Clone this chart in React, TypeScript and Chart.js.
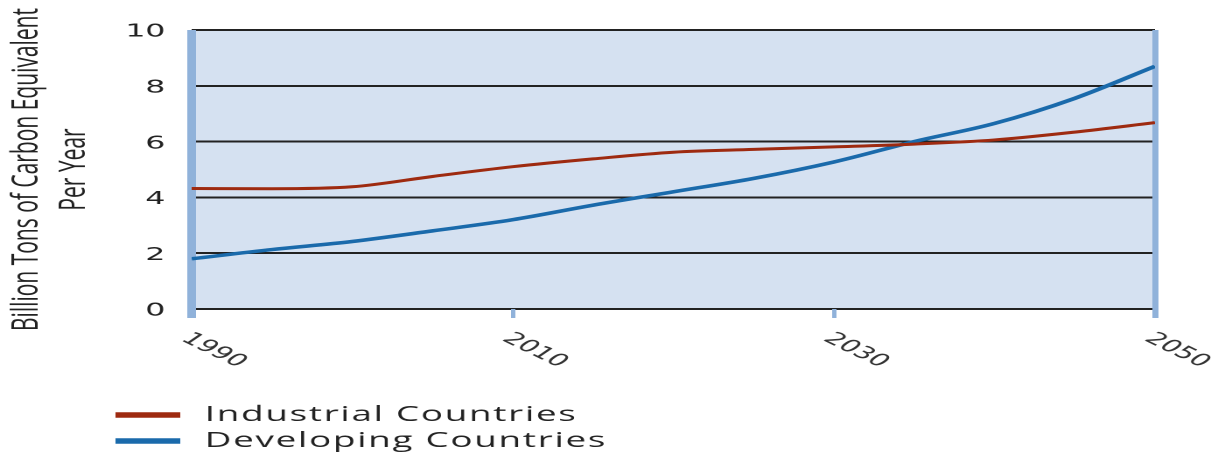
import React, { useEffect, useRef } from "react";
import { Chart, registerables } from "chart.js";

Chart.register(...registerables);

// ---- data ----
const years = [1990, 1995, 2000, 2005, 2010, 2015, 2020, 2025, 2030, 2035, 2040, 2045, 2050];
const industrial = [4.32, 4.31, 4.38, 4.75, 5.1, 5.38, 5.62, 5.72, 5.81, 5.91, 6.06, 6.34, 6.68];
const developing = [1.8, 2.13, 2.42, 2.8, 3.2, 3.72, 4.2, 4.68, 5.27, 6.0, 6.65, 7.55, 8.7];
const seriesLabels = ["Industrial Countries", "Developing Countries"];
const xTickValues = [1990, 2010, 2030, 2050];
const yTickValues = [0, 2, 4, 6, 8, 10];
const yTitleLines = ["Billion Tons of Carbon Equivalent", "Per Year"];

// ---- layout / style ----
const PAGE_W = 1211;
const PAGE_H = 453;
const STRETCH = 1.75;
const INNER_W = Math.round(PAGE_W / STRETCH);

const RED = "#9e2a10";
const BLUE = "#1a6aab";
const EDGE_BLUE = "#90b2da";
const PLOT_BG = "#d5e1f1";
const GRID = "#222222";
const TEXT = "#222222";

const bgPlugin = {
  id: "plotBg",
  beforeDraw(chart: any) {
    const { ctx, chartArea } = chart;
    ctx.save();
    ctx.fillStyle = PLOT_BG;
    ctx.fillRect(chartArea.left, chartArea.top, chartArea.right - chartArea.left, chartArea.bottom - chartArea.top);
    ctx.restore();
  },
};

const xLabelPlugin = {
  id: "xLabels",
  afterDraw(chart: any) {
    const { ctx, chartArea } = chart;
    const xs = chart.scales.x;
    ctx.save();
    ctx.font = '17px "DejaVu Sans"';
    ctx.fillStyle = "#333333";
    ctx.textAlign = "left";
    ctx.textBaseline = "top";
    xs.ticks.forEach((t: any) => {
      const px = xs.getPixelForValue(t.value);
      ctx.save();
      ctx.translate(px + 1.5, chartArea.bottom + 21);
      ctx.rotate((40 * Math.PI) / 180);
      ctx.fillText(String(t.value), 0, 0);
      ctx.restore();
    });
    ctx.restore();
  },
};

const legendPlugin = {
  id: "stackedLegend",
  afterDraw(chart: any) {
    const { ctx } = chart;
    ctx.save();
    ctx.font = '21px "Open Sans"';
    ctx.fillStyle = TEXT;
    ctx.textAlign = "left";
    ctx.textBaseline = "middle";
    (ctx as any).letterSpacing = "1px";
    chart.data.datasets.forEach((ds: any, i: number) => {
      const y = 415 + i * 26;
      ctx.strokeStyle = ds.borderColor;
      ctx.lineWidth = 5.5;
      ctx.beginPath();
      ctx.moveTo(66, y);
      ctx.lineTo(103, y);
      ctx.stroke();
      ctx.fillText(ds.label, 117, y);
    });
    ctx.restore();
  },
};

export default function App() {
  const ref = useRef<HTMLCanvasElement>(null);

  useEffect(() => {
    const canvas = ref.current;
    if (!canvas) return;
    const isEdge = (v: number) => v === xTickValues[0] || v === xTickValues[xTickValues.length - 1];
    const chart = new Chart(canvas, {
      type: "line",
      data: {
        datasets: [
          {
            label: seriesLabels[0],
            data: years.map((x, i) => ({ x, y: industrial[i] })),
            borderColor: RED,
            backgroundColor: RED,
            borderWidth: 3,
            pointRadius: 0,
            cubicInterpolationMode: "monotone",
          },
          {
            label: seriesLabels[1],
            data: years.map((x, i) => ({ x, y: developing[i] })),
            borderColor: BLUE,
            backgroundColor: BLUE,
            borderWidth: 3.5,
            pointRadius: 0,
            cubicInterpolationMode: "monotone",
          },
        ],
      },
      options: {
        animation: false,
        responsive: false,
        devicePixelRatio: 2,
        layout: { padding: { top: 30, right: 32, left: 0, bottom: 0 } },
        plugins: {
          legend: { display: false },
          tooltip: { enabled: false },
        },
        scales: {
          y: {
            type: "linear",
            min: 0,
            max: 10,
            afterBuildTicks: (s: any) => {
              s.ticks = yTickValues.map((v) => ({ value: v }));
            },
            afterFit: (s: any) => {
              s.width = 109.5;
            },
            ticks: {
              font: { family: "DejaVu Sans", size: 18 },
              color: TEXT,
              padding: 15,
              labelOffset: 2,
            },
            grid: { color: GRID, lineWidth: 2, drawTicks: false, z: -1 },
            border: { display: false },
            title: {
              display: true,
              text: yTitleLines,
              color: TEXT,
              font: { family: "Open Sans", size: 21, lineHeight: 1.286 },
              padding: { top: 2, bottom: 0 },
            },
          },
          x: {
            type: "linear",
            min: 1990,
            max: 2050,
            afterBuildTicks: (s: any) => {
              s.ticks = xTickValues.map((v) => ({ value: v }));
            },
            afterFit: (s: any) => {
              s.height = 144;
            },
            ticks: { display: false },
            grid: {
              color: (c: any) => (c.tick && isEdge(c.tick.value) ? EDGE_BLUE : "rgba(0,0,0,0)"),
              lineWidth: (c: any) => (c.tick && c.tick.value === xTickValues[0] ? 5 : 3.5),
              tickColor: EDGE_BLUE,
              tickWidth: (c: any) => (c.tick && isEdge(c.tick.value) ? (c.tick.value === xTickValues[0] ? 5 : 3.5) : 2.5),
              tickLength: 9,
              drawTicks: true,
            },
            border: { display: false },
          },
        },
      },
      plugins: [bgPlugin, xLabelPlugin, legendPlugin],
    } as any);
    return () => chart.destroy();
  }, []);

  return (
    <div style={{ position: "fixed", left: 0, top: 0, width: PAGE_W, height: PAGE_H, overflow: "hidden", background: "#fff" }}>
      <div style={{ width: INNER_W, height: PAGE_H, transform: `scaleX(${STRETCH})`, transformOrigin: "0 0" }}>
        <canvas ref={ref} width={INNER_W} height={PAGE_H} style={{ display: "block", width: INNER_W, height: PAGE_H }} />
      </div>
    </div>
  );
}
